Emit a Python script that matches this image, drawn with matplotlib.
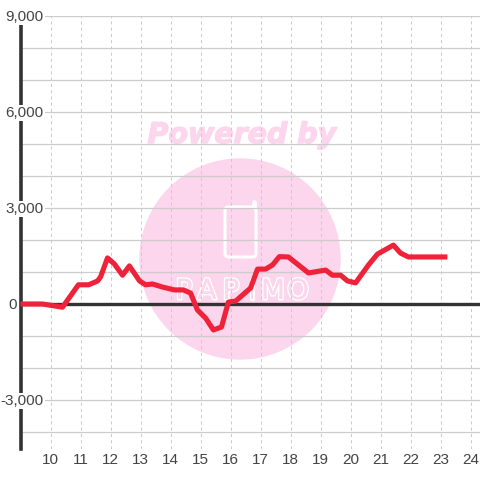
"""
Hourly line chart with a pink watermark behind the grid.
"""

import matplotlib
matplotlib.use('Agg')
from matplotlib import pyplot as plt
from matplotlib.lines import Line2D
from matplotlib.patches import Circle, FancyBboxPatch
from matplotlib.ticker import MultipleLocator
import matplotlib.patheffects as pe

# Data
hours = [9.0, 9.73, 10.4, 10.93, 11.27, 11.57, 11.67, 11.9, 12.13, 12.4, 12.63,
         12.97, 13.17, 13.4, 13.73, 14.13, 14.43, 14.67, 14.9, 15.17, 15.43,
         15.7, 15.93, 16.17, 16.67, 16.9, 17.17, 17.4, 17.63, 17.93, 18.6,
         19.17, 19.4, 19.67, 19.9, 20.17, 20.6, 20.9, 21.43, 21.67, 21.93, 23.23]
values = [0, 0, -100, 600, 600, 720, 850, 1440, 1250, 900, 1190,
          720, 600, 625, 530, 440, 440, 340, -190, -440, -810,
          -720, 60, 90, 500, 1090, 1090, 1220, 1480, 1470, 970,
          1060, 900, 900, 720, 660, 1220, 1560, 1840, 1590, 1470, 1470]
x_ticks = list(range(10, 25))
y_labels = [-3000, 3000, 6000, 9000]
logo_letters = ['P', 'A', 'P', 'I', 'M', 'O']

RED = '#ee2238'
DARK = '#333333'
PINK = '#fcd6ec'
TEXT = '#444444'

fig = plt.figure(figsize=(4.8, 4.8), dpi=100)
ax = fig.add_axes([20.5 / 480, 1 - 449 / 480, 459.5 / 480, 433 / 480])
ax.set_xlim(9, 9 + 459.5 / 30)
ax.set_ylim(-145 * 31.25, 9000)
ax.patch.set_alpha(0)


def px(x, y):
    # Figure pixel (from top left) to figure fraction
    return x / 480, 1 - y / 480


# Watermark, below the grid
fig.patches.append(Circle((240, 480 - 259), 100, transform=None, color=PINK, zorder=-5))
fig.text(*px(242, 135), 'Powered by', color=PINK, fontsize=20.5, fontweight='bold',
         fontstyle='italic', ha='center', va='center', family='DejaVu Sans', zorder=-4,
         path_effects=[pe.withStroke(linewidth=1, foreground=PINK)])
fig.patches.append(FancyBboxPatch((225, 480 - 257), 31, 50, boxstyle='round,pad=0,rounding_size=3',
                                  transform=None, fc='none', ec='white', lw=2.2, zorder=-4))
fig.add_artist(Line2D([254.5 / 480, 254.5 / 480], [1 - 207 / 480, 1 - 202 / 480], color='white',
                      lw=3.4, solid_capstyle='round', zorder=-4))
for letter, lx in zip(logo_letters, [184, 207, 231, 252, 273, 298]):
    fig.text(*px(lx, 291), letter, color=PINK, fontsize=20, ha='center', va='center',
             family='DejaVu Sans', zorder=-4,
             path_effects=[pe.withStroke(linewidth=2.2, foreground='white'), pe.Normal()])

# Grid
ax.yaxis.set_major_locator(MultipleLocator(1000))
ax.grid(axis='y', color='#cccccc', lw=0.9)
ax.grid(axis='x', color='#cccccc', lw=0.75, ls=(0, (3, 3)))
ax.set_axisbelow(True)

for s in ['top', 'right', 'bottom']:
    ax.spines[s].set_visible(False)
ax.spines['left'].set_color(DARK)
ax.spines['left'].set_linewidth(2.6)
ax.axhline(0, color=DARK, lw=2.4, zorder=2)

ax.plot(hours, values, color=RED, lw=3.7, solid_joinstyle='round', solid_capstyle='butt',
        zorder=3, clip_on=False)

# Ticks
ax.set_xticks(x_ticks)
ax.tick_params(axis='x', length=0, pad=3, labelsize=11, labelcolor=TEXT)
ax.tick_params(axis='y', length=0, labelleft=False)
for t in ax.get_xticklabels():
    t.set_family('Liberation Sans')

for v in y_labels:
    ax.annotate(format(v, ','), (0, v), xycoords=('axes fraction', 'data'), xytext=(23, -1),
                textcoords='offset pixels', ha='right', va='center', fontsize=11,
                color=TEXT, family='Liberation Sans', annotation_clip=False, zorder=5,
                bbox=dict(fc='white', ec='none', pad=1))
ax.annotate('0', (0, 0), xycoords=('axes fraction', 'data'), xytext=(-4, -1),
            textcoords='offset pixels', ha='right', va='center', fontsize=11,
            color=TEXT, family='Liberation Sans', annotation_clip=False)

fig.savefig('out.png', dpi=100)
